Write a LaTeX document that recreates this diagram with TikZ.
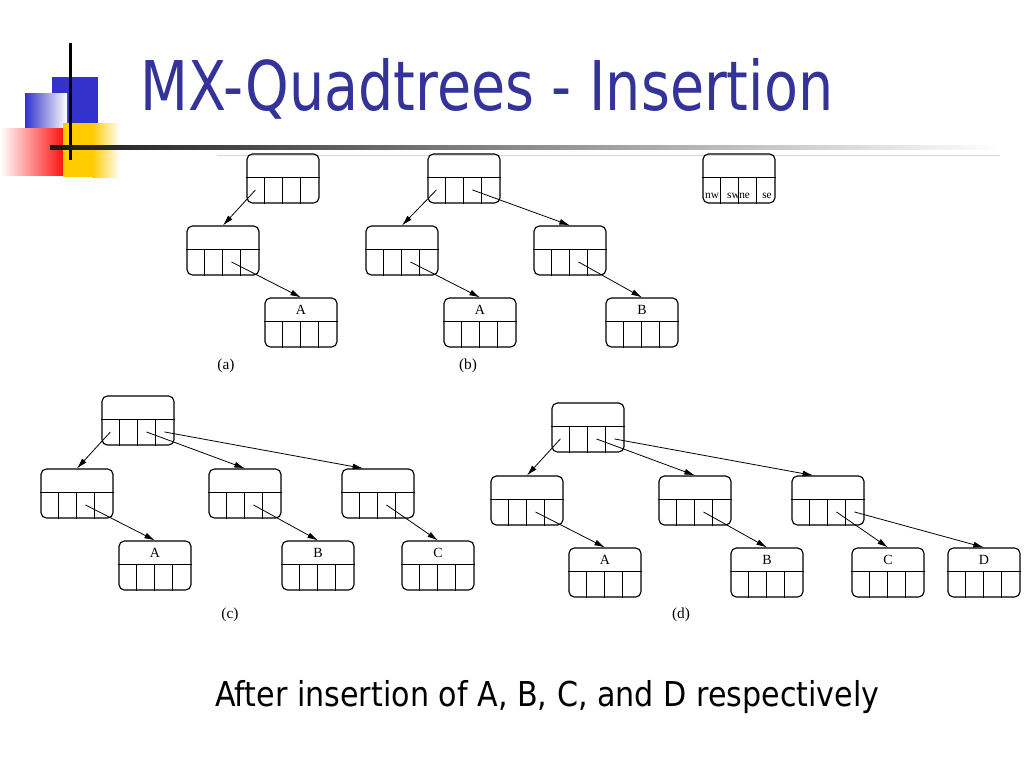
\documentclass[tikz,border=0pt]{standalone}
\usepackage{graphicx}
\usepackage{fontspec}
\setmainfont{Liberation Serif}
\newfontfamily\tahoma{DejaVu Sans}
\usetikzlibrary{arrows.meta,calc}
\definecolor{titleblue}{RGB}{51,51,153}
\definecolor{logoblue}{RGB}{51,51,204}
\definecolor{logored}{RGB}{255,20,20}
\definecolor{logogold}{RGB}{255,204,0}

% one quadtree node: name, centre x, centre y, key
\newcommand{\quadnode}[4]{%
  \node[qbox] (#1) at (#2,#3) {};
  \draw[qline] ($(#1.north west)+(0,24)$) -- ($(#1.north east)+(0,24)$);
  \foreach \k in {1,2,3}
    \draw[qline] ($(#1.north west)+(\k*18,24)$) -- ($(#1.south west)+(\k*18,0)$);
  \foreach \k in {1,...,4}
    \coordinate (#1-\k) at ($(#1.north west)+(\k*18-9,36.5)$);
  \node[keytext] (#1-key) at ($(#1.north)+(0,12.5)$) {#4};
}

\begin{document}
\begin{tikzpicture}[x=0.75pt,y=-0.75pt,
    qbox/.style={draw,rounded corners=4pt,line width=0.85pt,minimum width=54pt,minimum height=36.75pt,inner sep=0pt},
    qline/.style={line width=0.75pt},
    ptr/.style={-{Latex[length=8pt,width=4.4pt]},line width=0.6pt},
    keytext/.style={font=\fontsize{10.5}{12}\selectfont,inner sep=0pt},
    quadtext/.style={font=\fontsize{8.5}{9}\selectfont,inner sep=0pt},
    sublabel/.style={font=\fontsize{11.5}{13}\selectfont,inner sep=0pt}]
    \useasboundingbox (0,0) rectangle (1024,768);
    \fill[white] (0,0) rectangle (1024,768);

    % Draw the logo in the corner
    \fill[logoblue] (52,77) rectangle (98,129);
    \shade[left color=logoblue,right color=white] (25,93) rectangle (67,128);
    \shade[left color=white,right color=logored] (0,128) rectangle (63,175);
    \fill[logogold] (63,123) rectangle (92,177);
    \shade[left color=logogold,right color=white] (92,123) rectangle (120,177);
    \fill[black] (69,43) rectangle (72,160);
    \shade[left color=black!90,middle color=black!60,right color=white] (50,145.5) rectangle (1000,149);
    \draw[black!15,line width=0.5pt] (217,155) -- (1000,155);

    % Draw title and note
    \node[anchor=base west,text=titleblue,inner sep=0pt] (title) at (140,110)
        {\scalebox{0.81}[1]{\tahoma\fontsize{51.4}{60}\selectfont MX-Quadtrees - Insertion}};
    \node[anchor=base west,inner sep=0pt] (note) at (215,706)
        {\scalebox{0.88}[1]{\tahoma\fontsize{25.7}{30}\selectfont After insertion of A, B, C, and D respectively}};

    % Draw tree (a)
    \quadnode{a0}{283}{178.5}{}
    \quadnode{a1}{223}{250.5}{}
    \quadnode{aA}{301}{322.5}{A}
    \draw[ptr] (a0-1) -- (a1.north);
    \draw[ptr] (a1-3) -- (aA.north);
    \node[sublabel] (capa) at (226,366) {(a)};

    % Draw tree (b)
    \quadnode{b0}{464}{178.5}{}
    \quadnode{b1}{402}{250.5}{}
    \quadnode{b2}{570}{250.5}{}
    \quadnode{bA}{480}{322.5}{A}
    \quadnode{bB}{642}{322.5}{B}
    \draw[ptr] (b0-1) -- (b1.north);
    \draw[ptr] (b0-3) -- (b2.north);
    \draw[ptr] (b1-3) -- (bA.north);
    \draw[ptr] (b2-3) -- (bB.north);
    \node[sublabel] (capb) at (468,366) {(b)};

    % Draw the node with its quadrant names
    \quadnode{q0}{739}{178.5}{}
    \node[quadtext,anchor=base] (q0-nw) at (712,198) {nw};
    \node[quadtext,anchor=base east] (q0-sw) at (740,198) {sw};
    \node[quadtext,anchor=base west] (q0-ne) at (739,198) {ne};
    \node[quadtext,anchor=base] (q0-se) at (767,198) {se};

    % Draw tree (c)
    \quadnode{c0}{138}{420.5}{}
    \quadnode{c1}{77}{493.5}{}
    \quadnode{c2}{245}{493.5}{}
    \quadnode{c3}{378}{493.5}{}
    \quadnode{cA}{155}{565.5}{A}
    \quadnode{cB}{318}{565.5}{B}
    \quadnode{cC}{438}{565.5}{C}
    \draw[ptr] (c0-1) -- (c1.north);
    \draw[ptr] (c0-3) -- (c2.north);
    \draw[ptr] (c0-4) -- ([xshift=-11pt]c3.north);
    \draw[ptr] (c1-3) -- (cA.north);
    \draw[ptr] (c2-3) -- (cB.north);
    \draw[ptr] (c3-3) -- (cC.north);
    \node[sublabel] (capc) at (230,615) {(c)};

    % Draw tree (d)
    \quadnode{d0}{588}{427.5}{}
    \quadnode{d1}{527}{500.5}{}
    \quadnode{d2}{695}{500.5}{}
    \quadnode{d3}{828}{500.5}{}
    \quadnode{dA}{605}{572.5}{A}
    \quadnode{dB}{767}{572.5}{B}
    \quadnode{dC}{888}{572.5}{C}
    \quadnode{dD}{984}{572.5}{D}
    \draw[ptr] (d0-1) -- (d1.north);
    \draw[ptr] (d0-3) -- (d2.north);
    \draw[ptr] (d0-4) -- ([xshift=-11pt]d3.north);
    \draw[ptr] (d1-3) -- (dA.north);
    \draw[ptr] (d2-3) -- (dB.north);
    \draw[ptr] (d3-3) -- (dC.north);
    \draw[ptr] (d3-4) -- (dD.north);
    \node[sublabel] (capd) at (681,615) {(d)};
\end{tikzpicture}
\end{document}
